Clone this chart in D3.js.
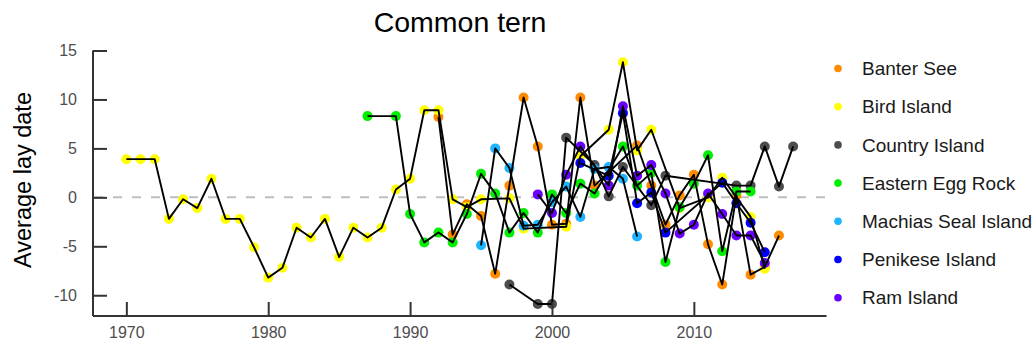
<!DOCTYPE html>
<html>
<head>
<meta charset="utf-8">
<script src="https://cdn.jsdelivr.net/npm/d3@7"></script>
<style>
  html, body { margin: 0; padding: 0; background: #fff; }
  svg { display: block; font-family: "Liberation Sans", Arial, Helvetica, sans-serif; }
</style>
</head>
<body>
<svg id="chart" width="1034" height="352"></svg>
<script>
// Average lay date of common terns per colony, [year, days from mean]
const banterSee = [
  [1992, 8.2], [1993, -3.8], [1994, -0.7], [1995, -1.9], [1996, -7.8], [1997, 1.2],
  [1998, 10.2], [1999, 5.2], [2000, -2.8], [2001, -2.7], [2002, 10.2], [2003, 1.2],
  [2006, 5.3], [2007, 1.2], [2008, -2.8], [2009, 0.2], [2010, 2.3], [2011, -4.8],
  [2012, -8.9], [2013, 0.2], [2014, -7.9], [2015, -7.1], [2016, -3.9]
];
const birdIsland = [
  [1970, 3.9], [1971, 3.9], [1972, 3.9], [1973, -2.2], [1974, -0.2], [1975, -1.1],
  [1976, 1.9], [1977, -2.2], [1978, -2.2], [1979, -5.1], [1980, -8.2], [1981, -7.2],
  [1982, -3.1], [1983, -4.1], [1984, -2.2], [1985, -6.1], [1986, -3.1], [1987, -4.1],
  [1988, -3.1], [1989, 0.8], [1990, 1.9], [1991, 8.9], [1992, 8.9], [1993, -0.2],
  [1994, -1.0], [1995, -0.2], [1997, -0.1], [1998, -3.2], [2001, -3.0], [2002, 4.2],
  [2004, 6.9], [2005, 13.8], [2006, 4.8], [2007, 6.9], [2009, -1.1], [2011, 0.0],
  [2012, 2.0], [2014, -2.0], [2015, -7.3]
];
const countryIsland = [
  [1997, -8.9], [1999, -10.9], [2000, -10.9], [2001, 6.1], [2003, 3.3], [2004, 0.1],
  [2005, 3.1], [2007, -0.8], [2008, 2.2], [2013, 1.2], [2014, 1.2], [2015, 5.2],
  [2016, 1.1], [2017, 5.2]
];
const easternEggRock = [
  [1987, 8.3], [1989, 8.3], [1990, -1.7], [1991, -4.6], [1992, -3.6], [1993, -4.6],
  [1994, -1.7], [1995, 2.4], [1996, 0.4], [1997, -3.6], [1998, -1.6], [1999, -3.6],
  [2000, 0.3], [2001, -1.6], [2002, 1.4], [2003, 0.4], [2005, 5.2], [2006, 1.2],
  [2007, 2.5], [2008, -6.6], [2009, -1.0], [2010, 1.4], [2011, 4.3], [2012, -5.5],
  [2013, 0.6], [2014, 0.6]
];
const machiasSealIsland = [
  [1995, -4.9], [1996, 5.0], [1997, 3.0], [1998, -2.9], [1999, -2.8], [2000, -0.5],
  [2001, 1.1], [2002, -2.0], [2003, 2.9], [2004, 3.1], [2005, 1.9], [2006, -4.0]
];
const penikeseIsland = [
  [2002, 3.5], [2004, 2.2], [2005, 8.6], [2006, -0.6], [2007, 0.5], [2008, -3.6],
  [2012, 1.5], [2013, -0.6], [2014, -2.6], [2015, -5.6]
];
const ramIsland = [
  [1999, 0.3], [2000, -1.6], [2001, 2.3], [2002, 5.2], [2004, 1.2], [2005, 9.3],
  [2006, 2.2], [2007, 3.3], [2008, 0.4], [2009, -3.7], [2010, -2.8], [2011, 0.4],
  [2012, -1.7], [2013, -3.9], [2014, -3.9], [2015, -6.7]
];

const siteNames = ["Banter See", "Bird Island", "Country Island", "Eastern Egg Rock",
                   "Machias Seal Island", "Penikese Island", "Ram Island"];
const siteSeries = [banterSee, birdIsland, countryIsland, easternEggRock,
                    machiasSealIsland, penikeseIsland, ramIsland];
const siteColors = ["#FF8C00", "#FFFF00", "#4D4D4D", "#00EE00", "#1EB4FF", "#0000FF", "#6A00FF"];

const xTicks = [1970, 1980, 1990, 2000, 2010];
const yTicks = [-10, -5, 0, 5, 10, 15];
const titleText = "Common tern";
const yLabel = "Average lay date";

const svg = d3.select("#chart");

// Panel extents (padded around the data range)
const allPoints = siteSeries.flat();
const xExt = d3.extent(allPoints, d => d[0]);
const xPad = (xExt[1] - xExt[0]) * 0.05;
const x = d3.scaleLinear().domain([xExt[0] - xPad, xExt[1] + xPad]).range([93, 826.5]);
const y = d3.scaleLinear().domain([-12.12, 15.0]).range([316, 50.5]);

const color = d3.scaleOrdinal().domain(siteNames).range(siteColors);

// Reference line at zero
svg.append("line")
  .attr("x1", x.range()[0]).attr("x2", x.range()[1])
  .attr("y1", y(0)).attr("y2", y(0))
  .attr("stroke", "#BEBEBE").attr("stroke-width", 2)
  .attr("stroke-dasharray", "9,10").attr("stroke-dashoffset", -1);

// Points, one layer per colony
const plot = svg.append("g");
siteSeries.forEach((series, i) => {
  plot.append("g").selectAll("circle")
    .data(series)
    .join("circle")
    .attr("cx", d => x(d[0]))
    .attr("cy", d => y(d[1]))
    .attr("r", 5)
    .attr("fill", color(siteNames[i]));
});

// Connecting lines drawn over the points
const line = d3.line().x(d => x(d[0])).y(d => y(d[1]));
siteSeries.forEach(series => {
  plot.append("path")
    .datum(series.slice().sort((a, b) => a[0] - b[0]))
    .attr("d", line)
    .attr("fill", "none")
    .attr("stroke", "#000")
    .attr("stroke-width", 1.9)
    .attr("stroke-linejoin", "round");
});

// Axes with inward ticks; plain hyphen for negative labels
const fmt = d => String(d);
const xAxis = svg.append("g")
  .attr("transform", `translate(0,${y.range()[0]})`)
  .call(d3.axisBottom(x).tickValues(xTicks).tickFormat(fmt).tickSize(-14).tickPadding(11));
const yAxis = svg.append("g")
  .attr("transform", `translate(${x.range()[0]},0)`)
  .call(d3.axisLeft(y).tickValues(yTicks).tickFormat(fmt).tickSize(-14).tickPadding(16));

[xAxis, yAxis].forEach(ax => {
  ax.select(".domain").attr("stroke", "#333").attr("stroke-width", 2);
  ax.selectAll(".tick line").attr("stroke", "#333").attr("stroke-width", 2);
  ax.selectAll(".tick text")
    .attr("fill", "#4D4D4D")
    .style("font-size", "16px")
    .style("font-family", "\"Liberation Sans\", Arial, sans-serif");
});
xAxis.select(".domain").attr("d", `M${x.range()[0]},0H${x.range()[1]}`);
yAxis.select(".domain").attr("d", `M0,${y.range()[0]}V${y.range()[1]}`);

// Title and axis label
svg.append("text")
  .attr("x", 460).attr("y", 32)
  .attr("text-anchor", "middle")
  .attr("fill", "#000")
  .style("font-size", "28.5px")
  .text(titleText);

svg.append("text")
  .attr("transform", "translate(31,180) rotate(-90)")
  .attr("text-anchor", "middle")
  .attr("fill", "#000")
  .style("font-size", "23.5px")
  .text(yLabel);

// Legend
const legend = svg.append("g").selectAll("g")
  .data(siteNames)
  .join("g")
  .attr("transform", (d, i) => `translate(838,${68.5 + i * 38.2})`);
legend.append("circle").attr("r", 3.8).attr("fill", d => color(d));
legend.append("text")
  .attr("x", 24).attr("dy", "0.35em")
  .attr("fill", "#1A1A1A")
  .style("font-size", "19px")
  .text(d => d);
</script>
</body>
</html>
